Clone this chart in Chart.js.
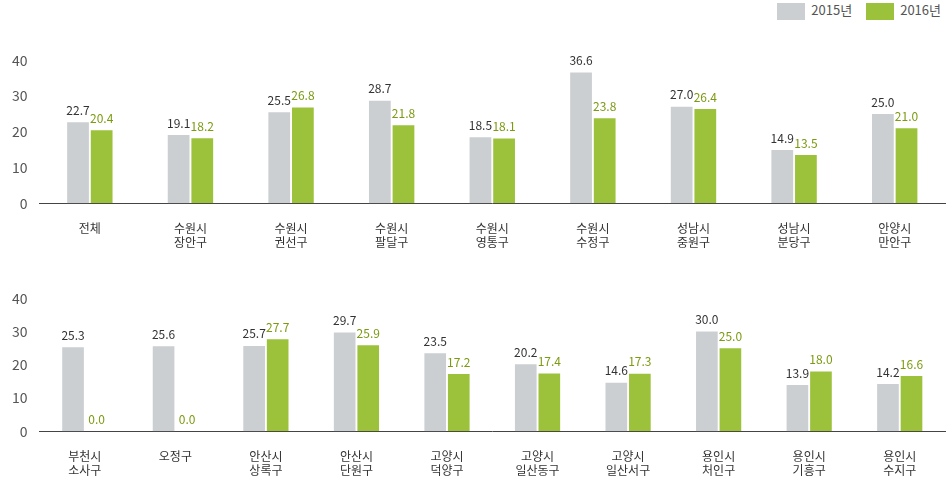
<!DOCTYPE html>
<html><head><meta charset="utf-8">
<script src="https://cdn.jsdelivr.net/npm/chart.js@4"></script>
<style>
body{margin:0;width:951px;height:488px;background:#fff;font-family:"Noto Sans CJK KR",sans-serif;position:relative;overflow:hidden}
.c{position:absolute;left:0;width:951px}
#leg{position:absolute;top:0;right:10px;font-size:13px;color:#555;display:flex;gap:14px;align-items:center}
#leg span{display:inline-block;width:28px;height:17px;margin-right:6px;vertical-align:middle}
</style></head><body>
<div id="leg"><div><span style="background:#cbcfd2"></span>2015년</div><div><span style="background:#9cc23b"></span>2016년</div></div>
<div class="c" style="top:40px;height:220px"><canvas id="a"></canvas></div>
<div class="c" style="top:278px;height:210px"><canvas id="b"></canvas></div>
<script>
const cats1=[["전체"],["수원시","장안구"],["수원시","권선구"],["수원시","팔달구"],["수원시","영통구"],["수원시","수정구"],["성남시","중원구"],["성남시","분당구"],["안양시","만안구"]];
const y2015a=[22.7,19.1,25.5,28.7,18.5,36.6,27.0,14.9,25.0];
const y2016a=[20.4,18.2,26.8,21.8,18.1,23.8,26.4,13.5,21.0];
const cats2=[["부천시","소사구"],["오정구"],["안산시","상록구"],["안산시","단원구"],["고양시","덕양구"],["고양시","일산동구"],["고양시","일산서구"],["용인시","처인구"],["용인시","기흥구"],["용인시","수지구"]];
const y2015b=[25.3,25.6,25.7,29.7,23.5,20.2,14.6,30.0,13.9,14.2];
const y2016b=[0.0,0.0,27.7,25.9,17.2,17.4,17.3,25.0,18.0,16.6];
const yTicks=[0,10,20,30,40];
const F='"Noto Sans CJK KR", sans-serif';
const lbl={id:'lbl',afterDatasetsDraw(c){const x=c.ctx;x.save();x.font='12px '+F;x.textAlign='center';x.textBaseline='bottom';
c.data.datasets.forEach((d,i)=>{x.fillStyle=i?'#7a9a10':'#333';c.getDatasetMeta(i).data.forEach((b,j)=>{x.fillText(d.data[j].toFixed(1),b.x,b.y-6);});});x.restore();}};
function mk(id,cats,a,b,cp){return new Chart(document.getElementById(id),{type:'bar',
data:{labels:cats,datasets:[{data:a,backgroundColor:'#cbcfd2'},{data:b,backgroundColor:'#9cc23b'}]},
options:{responsive:true,maintainAspectRatio:false,animation:false,layout:{padding:{top:20,right:6,left:0}},
plugins:{legend:{display:false},tooltip:{enabled:false}},
datasets:{bar:{categoryPercentage:cp,barPercentage:0.92}},
scales:{x:{grid:{display:false},border:{color:'#444'},ticks:{color:'#333',font:{family:F,size:12},padding:10}},
y:{min:0,max:40,afterBuildTicks(s){s.ticks=yTicks.map(v=>({value:v}));},grid:{display:false,drawTicks:false},border:{display:false},ticks:{color:'#555',font:{family:F,size:14},padding:12}}}},
plugins:[lbl]});}
mk('a',cats1,y2015a,y2016a,0.47);
mk('b',cats2,y2015b,y2016b,0.52);
</script></body></html>
